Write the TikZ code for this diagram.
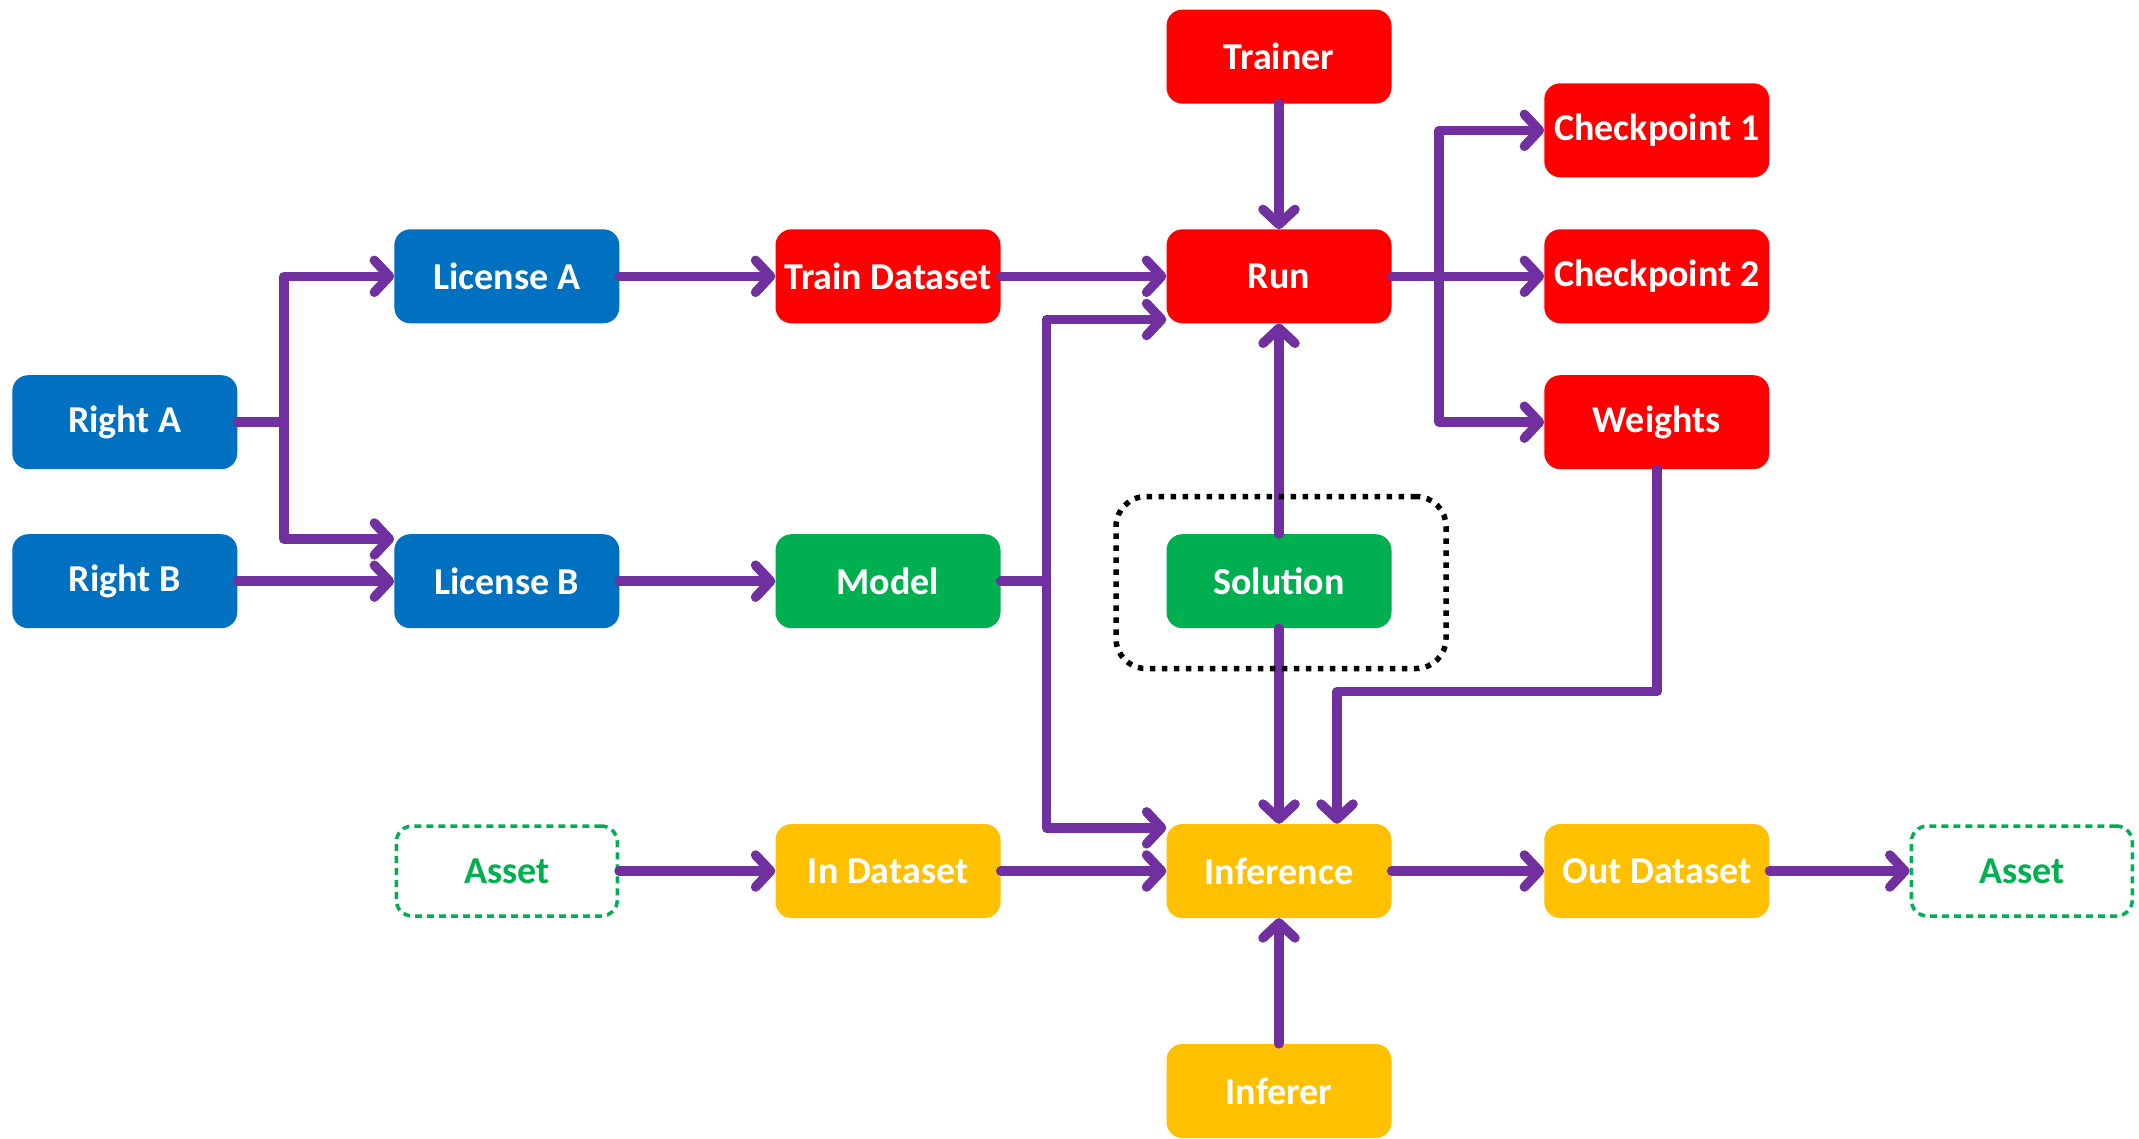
\documentclass[tikz,border=0pt]{standalone}
\usepackage{fontspec}
\setmainfont{Carlito}
\usetikzlibrary{arrows.meta}
\definecolor{cblue}{HTML}{0070C0}
\definecolor{cred}{HTML}{FF0000}
\definecolor{cgreen}{HTML}{00B050}
\definecolor{cgold}{HTML}{FFC000}
\definecolor{cpurple}{HTML}{7030A0}
\begin{document}
\begin{tikzpicture}[x=1pt,y=-1pt,
  box/.style={rounded corners=16pt, minimum width=225pt, minimum height=94pt,
    inner sep=0pt, font=\fontsize{38}{40}\selectfont\bfseries, text=white},
  bluebox/.style={box, fill=cblue},
  redbox/.style={box, fill=cred},
  greenbox/.style={box, fill=cgreen},
  goldbox/.style={box, fill=cgold},
  asset/.style={box, draw=cgreen, dash pattern=on 7pt off 5pt, line width=3.5pt,
    text=cgreen, minimum width=221pt, minimum height=90pt},
  group/.style={draw=black, line width=5.5pt, dash pattern=on 5.5pt off 6.5pt,
    rounded corners=30pt, minimum width=330pt, minimum height=172pt},
  link/.style={draw=cpurple, line width=9.5pt, line cap=round, line join=round},
  flow/.style={link, -{Straight Barb[length=15pt,width=32pt,round]}}
]
\useasboundingbox (0,0) rectangle (2139,1138);

% nodes
\node[bluebox] (rA) at (124.8,422.2) {Right A};
\node[bluebox] (rB) at (124.8,581.2) {Right B};
\node[bluebox] (lA) at (506.8,276.3) {License A};
\node[bluebox] (lB) at (506.8,581.2) {License B};
\node[redbox] (td) at (888,276.3) {Train Dataset};
\node[greenbox] (model) at (888,581.2) {Model};
\node[redbox] (trainer) at (1279,56.6) {Trainer};
\node[redbox] (run) at (1279,276.3) {Run};
\node[greenbox] (sol) at (1279,581.2) {Solution};
\node[redbox] (cp1) at (1656.8,130.3) {Checkpoint 1};
\node[redbox] (cp2) at (1656.8,276.3) {Checkpoint 2};
\node[redbox] (wts) at (1656.8,422.2) {Weights};
\node[asset] (assetIn) at (506.8,871) {Asset};
\node[goldbox] (inds) at (888,871) {In Dataset};
\node[goldbox] (inf) at (1279,871) {Inference};
\node[goldbox] (outds) at (1656.8,871) {Out Dataset};
\node[asset] (assetOut) at (2021.8,871) {Asset};
\node[goldbox] (inferer) at (1279,1091) {Inferer};

% junctions and bends
\coordinate (jA) at (283.8,422.2);
\coordinate (jM) at (1046.3,581.2);
\coordinate (jR) at (1439.2,276.3);
\coordinate (wbend) at (1656.8,691.7);
\coordinate (ibend) at (1337,691.7);

% rights to licenses
\draw[link] (rA.east) -- (jA);
\draw[flow] (jA) |- (lA.west);
\draw[flow] (jA) |- ([yshift=-5pt]lB.north west);
\draw[flow] (rB.east) -- (lB.west);

% training side
\draw[flow] (lA.east) -- (td.west);
\draw[flow] (lB.east) -- (model.west);
\draw[flow] (td.east) -- (run.west);
\draw[link] (model.east) -- (jM);
\draw[flow] (jM) |- ([yshift=4pt]run.south west);
\draw[flow] (jM) |- ([yshift=-4pt]inf.north west);
\draw[flow] (trainer.south) -- (run.north);
\draw[flow] (sol.north) -- (run.south);
\draw[flow] (sol.south) -- (inf.north);

% outputs of the run
\draw[flow] (run.east) -- (cp2.west);
\draw[flow] (jR) |- (cp1.west);
\draw[flow] (jR) |- (wts.west);
\draw[flow] (wts.south) -- (wbend) -- (ibend) -- (ibend |- inf.north);

% inference row
\draw[flow] (assetIn.east) -- (inds.west);
\draw[flow] (inds.east) -- (inf.west);
\draw[flow] (inf.east) -- (outds.west);
\draw[flow] (outds.east) -- (assetOut.west);
\draw[flow] (inferer.north) -- (inf.south);

% dotted group around the solution
\node[group] (solgroup) at (1281,582.5) {};
\end{tikzpicture}
\end{document}
